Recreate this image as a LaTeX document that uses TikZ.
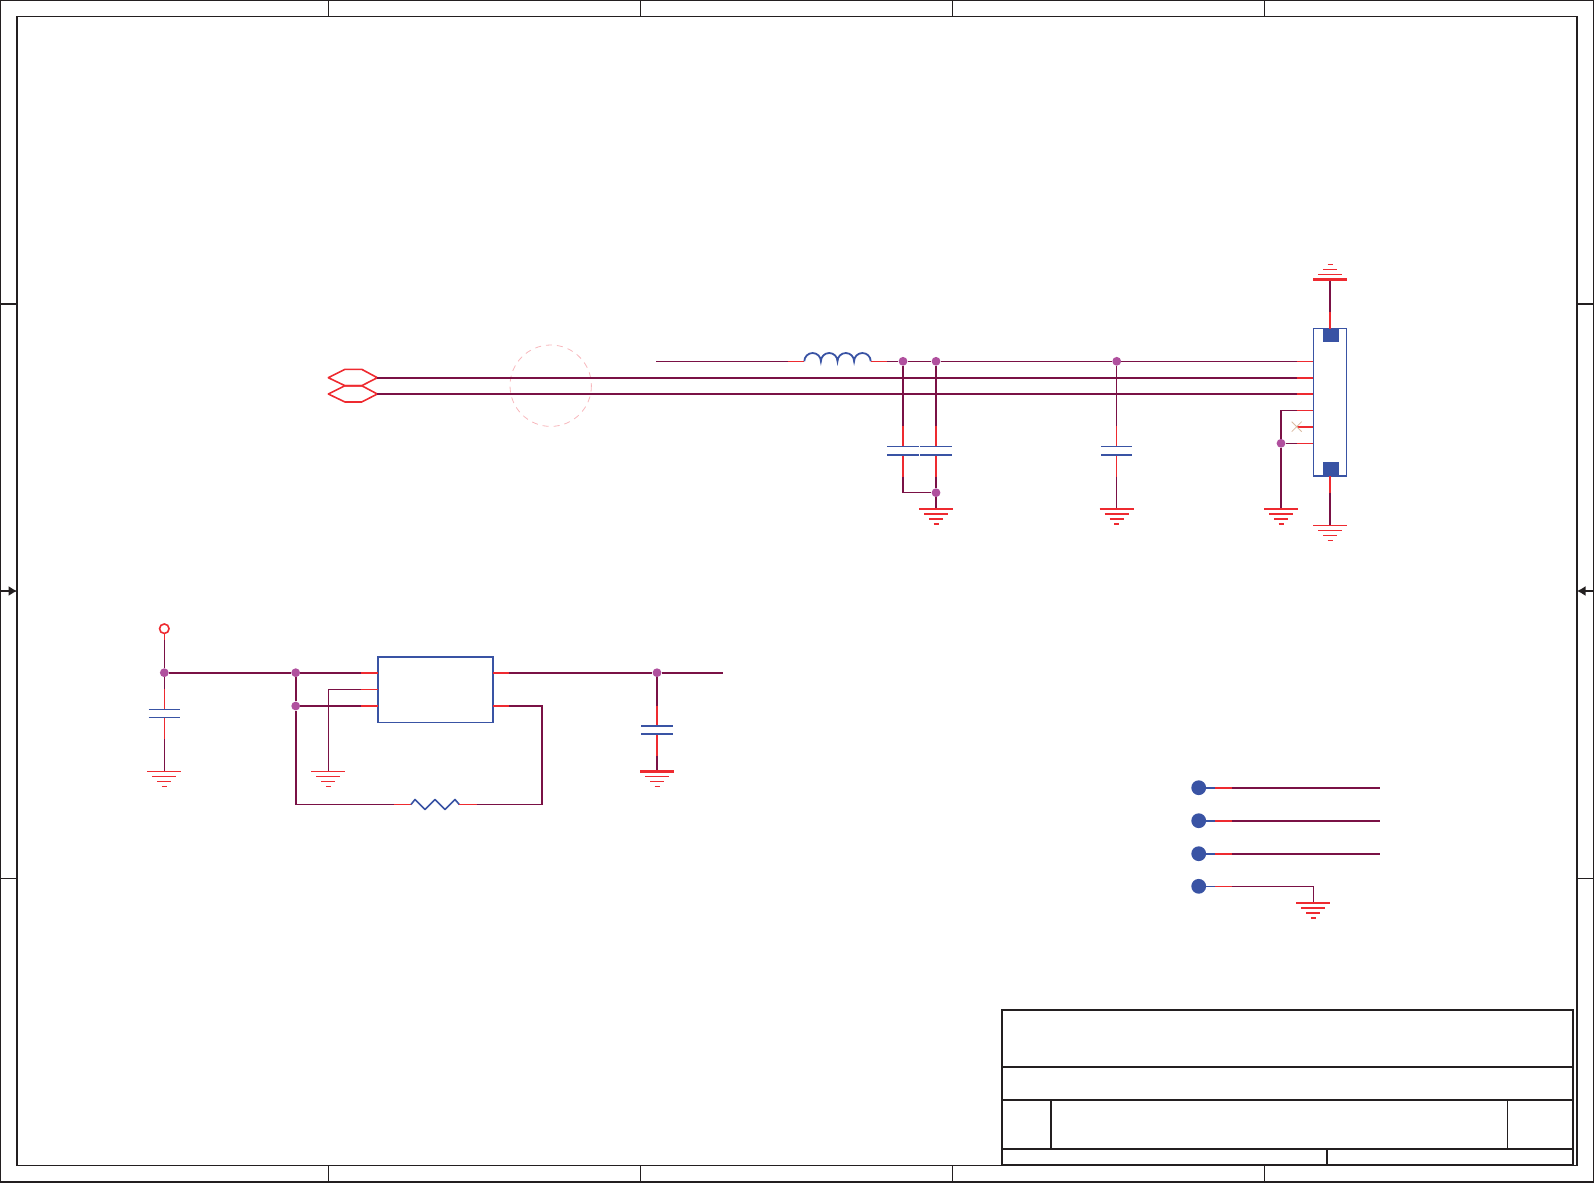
\documentclass[tikz,border=0pt]{standalone}
\usetikzlibrary{arrows.meta}
\definecolor{wirec}{HTML}{7A1145}
\definecolor{redc}{HTML}{EE2A30}
\definecolor{bluec}{HTML}{3953A4}
\definecolor{dotc}{HTML}{B0509E}
\definecolor{framec}{HTML}{231F20}
\definecolor{pinkc}{HTML}{F7B7BC}
\definecolor{xc}{HTML}{D9B9A0}
\tikzset{
  framel/.style={draw=framec,line width=1.3},
  blockl/.style={draw=framec,line width=1.9},
  tw/.style={draw=wirec,line width=2.2,line cap=butt},
  nw/.style={draw=wirec,line width=1.1,line cap=butt},
  tr/.style={draw=redc,line width=2.2,line cap=butt},
  nr/.style={draw=redc,line width=1.1,line cap=butt},
  tb/.style={draw=bluec,line width=2.2},
  nb/.style={draw=bluec,line width=1.1},
  junction/.style={circle,fill=dotc,draw=none,inner sep=0pt,minimum size=8.8pt},
  endpad/.style={circle,fill=bluec,draw=none,inner sep=0pt,minimum size=14.8pt},
  padn/.style={rectangle,fill=bluec,draw=none,inner sep=0pt,minimum width=16pt,minimum height=13.5pt},
  boxn/.style={rectangle,draw=none,inner sep=0pt},
}
% ground symbol: x, y, top bar style, other bars style, direction (1 down, -1 up)
\newcommand{\gndsym}[5]{%
  \begin{scope}[shift={(#1,#2)}]
    \draw[#3] (-17,0) -- (17,0);
    \draw[#4] (-12,5*#5) -- (12,5*#5);
    \draw[#4] (-7,10*#5) -- (7,10*#5);
    \draw[#4] (-2.5,15*#5) -- (2.5,15*#5);
  \end{scope}}
% capacitor plates: x, y1, y2, style1, style2
\newcommand{\capsym}[5]{%
  \draw[#4] (#1-15.6,#2) -- (#1+15.6,#2);
  \draw[#5] (#1-15.6,#3) -- (#1+15.6,#3);}
\begin{document}
\begin{tikzpicture}[x=1pt,y=-1pt]
\useasboundingbox (0,0) rectangle (1594,1183);
% ---------- sheet frame
\draw[line width=1.8,draw=framec] (0.5,0.5) rectangle (1593.5,1182);
\draw[framel] (17.1,16.5) rectangle (1577,1165.4);
\foreach \x in {328.4,640.5,952.6,1264.6}{
  \draw[framel] (\x,0.5) -- (\x,16.5);
  \draw[framel] (\x,1165.4) -- (\x,1182);
}
\foreach \y in {304.1}{
  \draw[blockl] (0.5,\y) -- (17.1,\y);
  \draw[blockl] (1577,\y) -- (1593.5,\y);
}
\foreach \y in {878.5}{
  \draw[framel] (0.5,\y) -- (17.1,\y);
  \draw[framel] (1577,\y) -- (1593.5,\y);
}
\coordinate (al) at (0.5,591); \coordinate (ali) at (17.1,591);
\coordinate (ar) at (1593.5,591); \coordinate (ari) at (1577,591);
\draw[framel,-{Latex[length=8.5pt,width=10pt]}] (al) -- (ali);
\draw[framel,-{Latex[length=8.5pt,width=10pt]}] (ar) -- (ari);
% ---------- title block
\draw[blockl] (1002,1009.6) rectangle (1572.7,1165.4);
\draw[blockl] (1002,1067) -- (1572.7,1067);
\draw[blockl] (1002,1100) -- (1572.7,1100);
\draw[blockl] (1002,1149.2) -- (1572.7,1149.2);
\draw[blockl] (1051,1100) -- (1051,1149.2);
\draw[framel] (1507.5,1100) -- (1507.5,1149.2);
\draw[blockl] (1327,1149.2) -- (1327,1165.4);

% ---------- connector J (upper right)
\node[boxn,minimum width=33pt,minimum height=147.3pt] (conn) at (1329.8,402.3) {};
\draw[bluec,line width=1.2] (conn.south west) -- (conn.north west) -- (conn.north east) -- (conn.south east);
\draw[bluec,line width=2] (conn.south west) -- (conn.south east);
\node[padn] (padt) at (1331,335.4) {};
\node[padn] (padb) at (1331,469.2) {};
\coordinate (p1) at (1313.3,361.3);
\coordinate (p2) at (1313.3,377.7);
\coordinate (p3) at (1313.3,394);
\coordinate (p4) at (1313.3,410.3);
\coordinate (p5) at (1313.3,426.7);
\coordinate (p6) at (1313.3,443.3);
\coordinate (pq1) at (1296.7,361.3);
\coordinate (pq2) at (1296.7,377.7);
\coordinate (pq3) at (1296.7,394);
\coordinate (pq4) at (1296.7,410.3);
\coordinate (pq5) at (1296.7,426.7);
\coordinate (pq6) at (1296.7,443.3);

% top and bottom shield pins
\coordinate (gt) at (1330,279.5);
\coordinate (gtr) at (1330,311.7);
\coordinate (ptop) at (1330,328.7);
\draw[tw] (gt) -- (gtr);
\draw[tr] (gtr) -- (ptop);
\gndsym{1330}{279.5}{tr}{nr}{-1}
\coordinate (pbot) at (1330,476);
\coordinate (pbr) at (1330,492.7);
\coordinate (gb) at (1330,525.5);
\draw[tr] (pbot) -- (pbr);
\draw[tw] (pbr) -- (gb);
\gndsym{1330}{525.5}{nr}{nr}{1}

% hexagon ports
\coordinate (h1) at (377.3,377.7);
\coordinate (h2) at (377.3,394);
\draw[redc,line width=1.6,line join=round] (h1) -- (361.7,369.3) -- (345,369.3) -- (328.3,377.7) -- (345,385.7) -- (361.7,385.7) -- cycle;
\draw[redc,line width=1.6,line join=round] (h2) -- (361.7,385.7) -- (345,385.7) -- (328.3,394) -- (345,402) -- (361.7,402) -- cycle;
\draw[pinkc,line width=0.8,dash pattern=on 6pt off 5pt] (550.7,385.7) circle[radius=40.7];

% junctions upper
\node[junction] (j1) at (903,361.3) {};
\node[junction] (j2) at (936,361.3) {};
\node[junction] (j3) at (1116.7,361.3) {};
\node[junction] (j4) at (936,492.7) {};
\node[junction] (j5) at (1281,443.3) {};

% bus lines
\draw[tw] (h1) -- (pq2); \draw[tr] (pq2) -- (p2);
\draw[tw] (h2) -- (pq3); \draw[tr] (pq3) -- (p3);
% inductor line
\coordinate (vstart) at (656.3,361.3);
\coordinate (lq1) at (787.7,361.3);
\coordinate (l1) at (804.3,361.3);
\coordinate (l2) at (870.7,361.3);
\coordinate (lq2) at (887.3,361.3);
\draw[nw] (vstart) -- (lq1);
\draw[nr] (lq1) -- (l1);
\draw[nr] (l2) -- (lq2);
\draw[nw] (lq2) -- (j1) -- (j2) -- (j3) -- (pq1);
\draw[nr] (pq1) -- (p1);
\draw[bluec,line width=1.8] (l1) arc[start angle=180,end angle=360,radius=8.3]
  arc[start angle=180,end angle=360,radius=8.3]
  arc[start angle=180,end angle=360,radius=8.3]
  arc[start angle=180,end angle=360,radius=8.3];

% caps C1, C2, C3
\coordinate (c1a) at (903,426); \coordinate (c1b) at (903,446.3);
\coordinate (c1c) at (903,455); \coordinate (c1d) at (903,476.7);
\coordinate (c1e) at (903,492.7);
\draw[tw] (j1) -- (c1a); \draw[tr] (c1a) -- (c1b); \draw[tr] (c1c) -- (c1d); \draw[tw] (c1d) -- (c1e);
\draw[nw] (c1e) -- (j4);
\capsym{903}{446.3}{455}{nb}{tb}
\coordinate (c2a) at (936,426); \coordinate (c2b) at (936,446.3);
\coordinate (c2c) at (936,455); \coordinate (c2d) at (936,476.7);
\coordinate (g2) at (936,509);
\draw[tw] (j2) -- (c2a); \draw[tr] (c2a) -- (c2b); \draw[tr] (c2c) -- (c2d); \draw[tw] (c2d) -- (j4); \draw[tw] (j4) -- (g2);
\capsym{936}{446.3}{455}{nb}{tb}
\gndsym{936}{509}{tr}{tr}{1}
\coordinate (c3a) at (1116.7,426); \coordinate (c3b) at (1116.7,446.3);
\coordinate (c3c) at (1116.7,455); \coordinate (c3d) at (1116.7,476.7);
\coordinate (g3) at (1116.7,509);
\draw[nw] (j3) -- (c3a); \draw[nr] (c3a) -- (c3b); \draw[nr] (c3c) -- (c3d); \draw[nw] (c3d) -- (g3);
\capsym{1116.7}{446.3}{455}{nb}{tb}
\gndsym{1116.7}{509}{tr}{tr}{1}

% connector shield returns
\coordinate (v4) at (1281,410.3);
\coordinate (g4) at (1281,508.7);
\draw[nw] (pq4) -- (v4);
\draw[tw] (v4) -- (j5); \draw[tw] (j5) -- (g4);
\draw[nr] (pq4) -- (p4);
\draw[nw] (j5) -- (pq6); \draw[nr] (pq6) -- (p6);
\draw[tr] (pq5) -- (p5);
\draw[xc,line width=0.8] (1291.7,421.7) -- (1301.7,431.7) (1291.7,431.7) -- (1301.7,421.7);
\gndsym{1281}{508.7}{tr}{tr}{1}

% ---------- regulator block
\node[boxn,minimum width=115pt,minimum height=65.3pt] (u1) at (435.2,689.7) {};
\draw[bluec,line width=2] (u1.south west) -- (u1.north west) -- (u1.north east) -- (u1.south east);
\draw[bluec,line width=1.2] (u1.south west) -- (u1.south east);
\node[circle,draw=redc,line width=1.6,inner sep=0pt,minimum size=9.5pt] (pwr) at (164.3,628.7) {};
\node[junction] (j6) at (164.3,672.7) {};
\node[junction] (j7) at (295.7,672.7) {};
\node[junction] (j8) at (295.7,706) {};
\node[junction] (j9) at (657,672.7) {};
% input cap
\coordinate (ci0) at (164.3,640); \coordinate (ci1) at (164.3,689.3);
\coordinate (ci2) at (164.3,709.3); \coordinate (ci3) at (164.3,717.3);
\coordinate (ci4) at (164.3,739.3); \coordinate (gi) at (164.3,771.3);
\draw[nr] (pwr) -- (ci0); \draw[nw] (ci0) -- (j6); \draw[nw] (j6) -- (ci1);
\draw[nr] (ci1) -- (ci2); \draw[nr] (ci3) -- (ci4); \draw[nw] (ci4) -- (gi);
\capsym{164.3}{709.3}{717.3}{nb}{nb}
\gndsym{164.3}{771.3}{nr}{nr}{1}
% left pins
\coordinate (ul1q) at (361,672.7); \coordinate (ul1) at (377.7,672.7);
\coordinate (ul2q) at (361,689.3); \coordinate (ul2) at (377.7,689.3);
\coordinate (ul3q) at (361,706); \coordinate (ul3) at (377.7,706);
\draw[tw] (j6) -- (j7) -- (ul1q); \draw[tr] (ul1q) -- (ul1);
\draw[tw] (j8) -- (ul3q); \draw[tr] (ul3q) -- (ul3);
\coordinate (g5t) at (328.3,689.3); \coordinate (g5) at (328.3,771.3);
\draw[nw] (ul2q) -- (g5t) -- (g5); \draw[nr] (ul2q) -- (ul2);
\gndsym{328.3}{771.3}{nr}{nr}{1}
\draw[tw] (j7) -- (j8);
% feedback with resistor
\coordinate (fb0) at (295.7,804.5);
\coordinate (rq1) at (394,804.5); \coordinate (r1) at (411,804.5);
\coordinate (r2) at (459.3,804.5); \coordinate (rq2) at (476.7,804.5);
\coordinate (fb1) at (542,804.5); \coordinate (fb2) at (542,706);
\coordinate (ur2q) at (509.3,706); \coordinate (ur2) at (493,706);
\draw[tw] (j8) -- (fb0);
\draw[nw] (fb0) -- (rq1); \draw[nr] (rq1) -- (r1);
\draw[bluec,line width=1.6,line join=round] (r1) -- (415,799.5) -- (425,809.5) -- (435,799.5) -- (445,809.5) -- (455,799.5) -- (r2);
\draw[nr] (r2) -- (rq2); \draw[nw] (rq2) -- (fb1);
\draw[tw] (fb1) -- (fb2) -- (ur2q); \draw[tr] (ur2q) -- (ur2);
% output
\coordinate (ur1) at (493,672.7); \coordinate (ur1q) at (509.3,672.7);
\coordinate (vout) at (723,672.7);
\draw[tr] (ur1) -- (ur1q); \draw[tw] (ur1q) -- (j9); \draw[tw] (j9) -- (vout);
\coordinate (co1) at (657,705.7); \coordinate (co2) at (657,726);
\coordinate (co3) at (657,734); \coordinate (co4) at (657,755.7);
\coordinate (go) at (657,771.5);
\draw[tw] (j9) -- (co1); \draw[tr] (co1) -- (co2); \draw[tr] (co3) -- (co4); \draw[tw] (co4) -- (go);
\capsym{657}{726}{734}{tb}{tb}
\gndsym{657}{771.5}{tr}{nr}{1}

% ---------- test points
\node[endpad] (tp1) at (1198.7,787.7) {};
\node[endpad] (tp2) at (1198.7,820.7) {};
\node[endpad] (tp3) at (1198.7,853.7) {};
\node[endpad] (tp4) at (1198.7,886.3) {};
\foreach \n/\y in {1/787.7,2/820.7,3/853.7}{
  \coordinate (a\n) at (1215,\y); \coordinate (b\n) at (1232,\y); \coordinate (e\n) at (1380,\y);
  \draw[tb] (tp\n) -- (a\n); \draw[tr] (a\n) -- (b\n); \draw[tw] (b\n) -- (e\n);
}
\coordinate (a4) at (1215,886.3); \coordinate (b4) at (1232,886.3);
\coordinate (t4) at (1313.3,886.3); \coordinate (g6) at (1313.3,902.7);
\draw[nb] (tp4) -- (a4); \draw[nr] (a4) -- (b4); \draw[nw] (b4) -- (t4) -- (g6);
\gndsym{1313.3}{902.7}{tr}{tr}{1}
\end{tikzpicture}
\end{document}
